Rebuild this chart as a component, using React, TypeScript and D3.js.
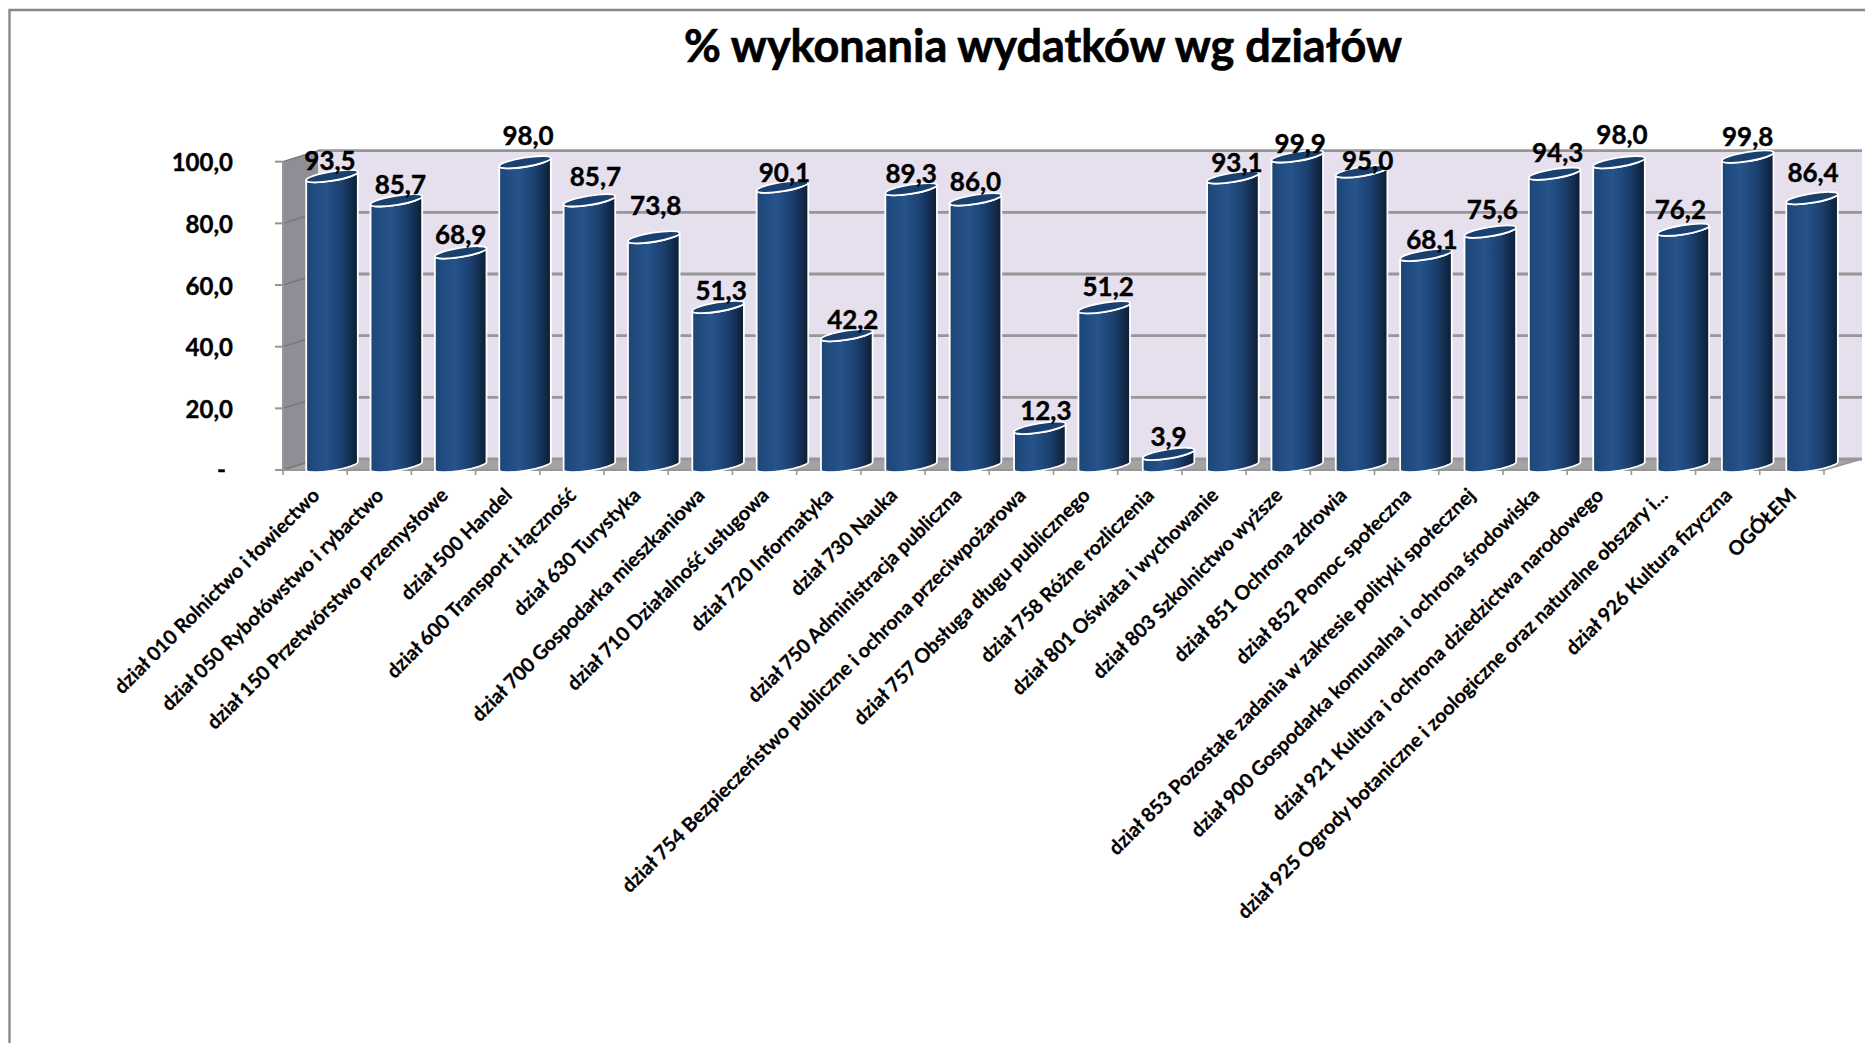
import React from "react";
import * as d3 from "d3";

const title = "% wykonania wydatków wg działów";
const categories = [
  "dział 010 Rolnictwo i łowiectwo",
  "dział 050 Rybołówstwo i rybactwo",
  "dział 150 Przetwórstwo przemysłowe",
  "dział 500 Handel",
  "dział 600 Transport i łączność",
  "dział 630 Turystyka",
  "dział 700 Gospodarka mieszkaniowa",
  "dział 710 Działalność usługowa",
  "dział 720 Informatyka",
  "dział 730 Nauka",
  "dział 750 Administracja publiczna",
  "dział 754 Bezpieczeństwo publiczne i ochrona przeciwpożarowa",
  "dział 757 Obsługa długu publicznego",
  "dział 758 Różne rozliczenia",
  "dział 801 Oświata i wychowanie",
  "dział 803 Szkolnictwo wyższe",
  "dział 851 Ochrona zdrowia",
  "dział 852 Pomoc społeczna",
  "dział 853 Pozostałe zadania w zakresie polityki społecznej",
  "dział 900 Gospodarka komunalna i ochrona środowiska",
  "dział 921 Kultura i ochrona dziedzictwa narodowego",
  "dział 925 Ogrody botaniczne i zoologiczne oraz naturalne obszary i…",
  "dział 926 Kultura fizyczna",
  "OGÓŁEM",
];
const values = [93.5, 85.7, 68.9, 98.0, 85.7, 73.8, 51.3, 90.1, 42.2, 89.3, 86.0, 12.3, 51.2, 3.9, 93.1, 99.9, 95.0, 68.1, 75.6, 94.3, 98.0, 76.2, 99.8, 86.4];
const yTicks = [0, 20, 40, 60, 80, 100];

// Hand-placed data label nudges, as in the original chart
const labelLift = [6, 6.5, 8.5, 17, 14.5, 22, 7, 4.5, 6, 6, 8.5, 8, 11, 7.5, 5.5, 3.5, 1.5, 6, 12.5, 12, 18, 10.5, 11, 16];
const labelShift = [-2, 4, 0, 3, 6, 2, 3, 2, 6, 0, 0, 6, 4, 0, 4, 3, 6, 6, 2, 3, 3, -3, 0, 1];

const fmt = (v: number) => (v === 0 ? "-" : v.toFixed(1).replace(".", ","));

const W = 1865, H = 1043;
const frontLeft = 283, frontRight = 1824, frontTop = 161.7, frontBottom = 470;
const depthX = 35, depthY = 11;
const grey = "#969696";

const xTick = d3.scaleBand<string>().domain(categories).range([frontLeft, frontRight]);
const yFront = d3.scaleLinear().domain([0, 100]).range([frontBottom, frontTop]);
const yMid = d3.scaleLinear().domain([0, 100]).range([466, 156]);
const barX = d3.scalePoint<string>().domain(categories).range([332, 332 + 64.35 * 23]);

const halfW = 25.8, halfRise = 4.2, ry = 4.6;
const rx = Math.hypot(halfW, halfRise);
const rot = (Math.atan2(-halfRise, halfW) * 180) / Math.PI;

function bodyPath(cx: number, top: number, base: number) {
  return `M${cx - halfW},${top + halfRise} L${cx - halfW},${base + halfRise} A${rx},${ry} ${rot} 0 0 ${cx + halfW},${base - halfRise} L${cx + halfW},${top - halfRise} A${rx},${ry} ${rot} 0 1 ${cx - halfW},${top + halfRise} Z`;
}

const font = "Lato, 'Noto Sans', sans-serif";

export default function App() {
  return (
    <svg width={W} height={H} viewBox={`0 0 ${W} ${H}`} style={{ position: "absolute", left: 0, top: 0, display: "block", background: "#fff", fontFamily: font, fontWeight: 700 }}>
      <defs>
        <linearGradient id="cyl" x1="0" x2="1" y1="0" y2="0">
          <stop offset="0" stopColor="#1d4677" />
          <stop offset="0.38" stopColor="#26538b" />
          <stop offset="0.7" stopColor="#1a3f6e" />
          <stop offset="1" stopColor="#0c1d33" />
        </linearGradient>
      </defs>

      {/* page frame */}
      <path d={`M9.5,${H} L9.5,10 L${W},10`} fill="none" stroke="#888" strokeWidth={2.4} />

      <text x={1043} y={62} textAnchor="middle" fontSize={45} fill="#000" stroke="#000" strokeWidth={0.7}>{title}</text>

      {/* back wall */}
      <polygon points={`${frontLeft + depthX},${frontTop - depthY} ${frontRight + depthX + 3},${frontTop - depthY} ${frontRight + depthX + 3},${frontBottom - depthY} ${frontLeft + depthX},${frontBottom - depthY}`} fill="#e6e0ee" />
      {/* left wall */}
      <polygon points={`${frontLeft},${frontTop} ${frontLeft + depthX},${frontTop - depthY} ${frontLeft + depthX},${frontBottom - depthY} ${frontLeft},${frontBottom}`} fill="#8f8d95" />
      {/* floor */}
      <polygon points={`${frontLeft},${frontBottom} ${frontRight},${frontBottom} ${frontRight + depthX + 3},${frontBottom - depthY} ${frontLeft + depthX},${frontBottom - depthY}`} fill="#a3a3a3" />

      {/* gridlines and ticks */}
      {yTicks.map((t) => {
        const y = yFront(t);
        return (
          <g key={t}>
            <line x1={frontLeft + depthX} x2={frontRight + depthX + 3} y1={y - depthY} y2={y - depthY} stroke={grey} strokeWidth={2.8} />
            <line x1={frontLeft} x2={frontLeft + depthX} y1={y} y2={y - depthY} stroke="#77757c" strokeWidth={1.4} />
            <line x1={frontLeft - 8} x2={frontLeft} y1={y} y2={y} stroke={grey} strokeWidth={2} />
            <text x={t === 0 ? 226 : 233} y={y + (t === 0 ? 8 : 9.5)} textAnchor="end" fontSize={24} fill="#000" stroke="#000" strokeWidth={0.4}>{fmt(t)}</text>
          </g>
        );
      })}
      <line x1={frontLeft} x2={frontLeft} y1={frontTop} y2={frontBottom} stroke={grey} strokeWidth={2} />
      <line x1={frontLeft} x2={frontRight} y1={frontBottom} y2={frontBottom} stroke={grey} strokeWidth={2} />
      <line x1={frontRight} x2={frontRight + depthX + 3} y1={frontBottom} y2={frontBottom - depthY} stroke={grey} strokeWidth={1.6} />
      {[...categories.map((c) => xTick(c)!), frontRight].map((x, i) => (
        <line key={i} x1={x} x2={x} y1={frontBottom} y2={frontBottom + 5} stroke={grey} strokeWidth={1.6} />
      ))}

      {/* cylinders */}
      {categories.map((c, i) => {
        const cx = barX(c)!;
        const top = yMid(values[i]);
        const base = yMid(0);
        return (
          <g key={c}>
            <path d={bodyPath(cx, top, base)} fill="url(#cyl)" stroke="#fff" strokeWidth={1.8} strokeLinejoin="round" />
            <ellipse cx={cx} cy={top} rx={rx} ry={ry} transform={`rotate(${rot} ${cx} ${top})`} fill="#1a4070" stroke="#fff" strokeWidth={1.8} />
          </g>
        );
      })}

      {/* data labels */}
      {categories.map((c, i) => (
        <text key={c} x={barX(c)! + labelShift[i]} y={yMid(values[i]) - labelLift[i]} textAnchor="middle" fontSize={26} fill="#000" stroke="#000" strokeWidth={0.4}>{fmt(values[i])}</text>
      ))}

      {/* category labels */}
      {categories.map((c) => {
        const x = xTick(c)! + xTick.bandwidth() / 2 + 2;
        const y = 493;
        return (
          <text key={c} transform={`translate(${x},${y}) rotate(-45)`} textAnchor="end" dominantBaseline="middle" fontSize={19.8} fill="#000" stroke="#000" strokeWidth={0.25}>{c}</text>
        );
      })}
    </svg>
  );
}
